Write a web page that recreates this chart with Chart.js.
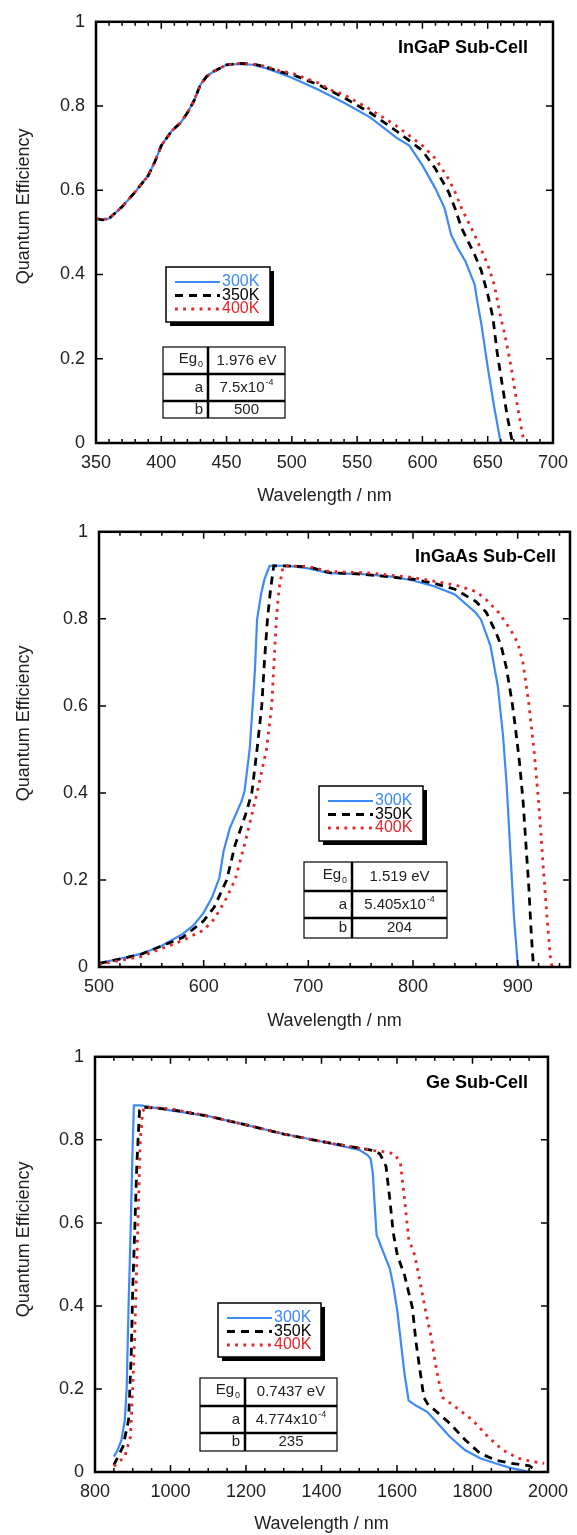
<!DOCTYPE html>
<html>
<head>
<meta charset="utf-8">
<title>Sub-cell quantum efficiency</title>
<script src="https://cdn.jsdelivr.net/npm/chart.js@4.4.1/dist/chart.umd.min.js"></script>
<style>
  body { margin: 0; background: #fff; }
  .panel { position: absolute; left: 0; width: 577px; }
</style>
</head>
<body>
<div class="panel" style="top:0;height:510px"><canvas id="ingap"></canvas></div>
<div class="panel" style="top:510px;height:525px"><canvas id="ingaas"></canvas></div>
<div class="panel" style="top:1035px;height:500px"><canvas id="ge"></canvas></div>
<script>
// legend names and table row names
var seriesLabels = ['300K', '350K', '400K'];
var paramNames = ['Eg_0', 'a', 'b'];

// InGaP sub-cell
var ingapWl300 = [350, 355, 360, 370, 380, 390, 395, 400, 408, 415, 420, 425, 430, 435, 440, 450, 460, 470, 480, 490, 500, 520, 540, 560, 580, 590, 600, 610, 617, 622, 627, 633, 640, 642, 645, 650, 655, 660];
var ingapQe300 = [0.533, 0.530, 0.533, 0.561, 0.596, 0.635, 0.667, 0.706, 0.741, 0.761, 0.784, 0.812, 0.851, 0.871, 0.882, 0.898, 0.900, 0.898, 0.890, 0.879, 0.867, 0.839, 0.808, 0.773, 0.725, 0.706, 0.659, 0.604, 0.557, 0.494, 0.463, 0.431, 0.376, 0.337, 0.285, 0.180, 0.085, 0];
var ingapWl350 = [350, 355, 360, 370, 380, 390, 395, 400, 408, 415, 420, 425, 430, 435, 440, 450, 460, 470, 480, 490, 500, 520, 540, 560, 580, 600, 610, 620, 625, 630, 640, 645, 650, 654, 657, 661, 665, 669];
var ingapQe350 = [0.533, 0.530, 0.533, 0.561, 0.596, 0.635, 0.667, 0.706, 0.741, 0.761, 0.784, 0.812, 0.851, 0.871, 0.882, 0.898, 0.901, 0.900, 0.893, 0.882, 0.875, 0.851, 0.820, 0.784, 0.741, 0.694, 0.651, 0.596, 0.557, 0.510, 0.447, 0.410, 0.353, 0.298, 0.220, 0.141, 0.063, 0];
var ingapWl400 = [350, 355, 360, 370, 380, 390, 395, 400, 408, 415, 420, 425, 430, 435, 440, 450, 460, 470, 480, 490, 500, 520, 530, 540, 560, 580, 600, 610, 620, 625, 630, 640, 650, 655, 660, 663, 668, 672, 676, 678];
var ingapQe400 = [0.533, 0.530, 0.533, 0.561, 0.596, 0.635, 0.667, 0.706, 0.741, 0.761, 0.784, 0.812, 0.851, 0.871, 0.882, 0.898, 0.901, 0.900, 0.894, 0.884, 0.878, 0.855, 0.838, 0.827, 0.792, 0.753, 0.706, 0.675, 0.627, 0.596, 0.557, 0.494, 0.424, 0.376, 0.298, 0.259, 0.180, 0.102, 0.031, 0];
var ingapParams = ['1.976 eV', '7.5x10^-4', '500'];

// InGaAs sub-cell
var ingaasWl300 = [500, 520, 540, 560, 580, 590, 600, 608, 615, 619, 625, 636, 639, 644, 647, 649, 651, 655, 658, 663, 680, 700, 720, 750, 780, 800, 820, 840, 860, 865, 870, 874, 881, 886, 889.5, 893, 896.5, 900, 901];
var ingaasQe300 = [0.009, 0.019, 0.030, 0.049, 0.076, 0.095, 0.125, 0.160, 0.205, 0.266, 0.319, 0.380, 0.403, 0.502, 0.608, 0.684, 0.798, 0.859, 0.890, 0.922, 0.922, 0.916, 0.905, 0.903, 0.897, 0.888, 0.875, 0.856, 0.814, 0.798, 0.765, 0.738, 0.646, 0.532, 0.418, 0.266, 0.114, 0.008, 0];
var ingaasWl350 = [500, 540, 580, 600, 610, 622, 630, 640, 646, 651, 655.5, 658, 661, 664, 667, 700, 720, 750, 800, 820, 840, 860, 870, 879, 884, 889, 894.7, 898, 901.7, 905.2, 907.7, 910.5, 913, 914.7, 915.5];
var ingaasQe350 = [0.008, 0.029, 0.068, 0.106, 0.137, 0.200, 0.280, 0.350, 0.400, 0.500, 0.600, 0.700, 0.800, 0.870, 0.922, 0.920, 0.906, 0.903, 0.891, 0.882, 0.868, 0.840, 0.815, 0.770, 0.740, 0.690, 0.608, 0.547, 0.471, 0.380, 0.289, 0.190, 0.076, 0.015, 0];
var ingaasWl400 = [500, 540, 580, 600, 610, 620, 630, 640, 651, 660, 665, 669.5, 672, 676, 700, 720, 760, 800, 840, 860, 870, 882, 893, 900, 905, 910.5, 915.8, 920, 924.5, 928, 931.5, 933];
var ingaasQe400 = [0.006, 0.024, 0.061, 0.085, 0.110, 0.150, 0.200, 0.290, 0.400, 0.500, 0.600, 0.800, 0.870, 0.922, 0.920, 0.909, 0.905, 0.895, 0.878, 0.863, 0.844, 0.814, 0.776, 0.745, 0.700, 0.608, 0.494, 0.380, 0.228, 0.114, 0.015, 0];
var ingaasParams = ['1.519 eV', '5.405x10^-4', '204'];

// Ge sub-cell
var geWl300 = [850, 860, 870, 879, 884, 889, 894, 899, 903, 920, 1000, 1100, 1200, 1300, 1400, 1500, 1521, 1530, 1536, 1541, 1546, 1550, 1560, 1581, 1590, 1601, 1611, 1620, 1631, 1650, 1680, 1700, 1740, 1780, 1820, 1860, 1900, 1940, 1960];
var geQe300 = [0.037, 0.053, 0.077, 0.125, 0.204, 0.403, 0.569, 0.760, 0.883, 0.883, 0.871, 0.857, 0.836, 0.814, 0.796, 0.776, 0.764, 0.755, 0.720, 0.641, 0.570, 0.562, 0.538, 0.490, 0.450, 0.387, 0.307, 0.236, 0.172, 0.160, 0.145, 0.125, 0.085, 0.053, 0.033, 0.021, 0.010, 0.002, 0];
var geWl350 = [850, 874, 889, 896, 900, 906, 911, 918, 925, 1000, 1100, 1200, 1300, 1400, 1500, 1540, 1555, 1571, 1581, 1590, 1601, 1620, 1641, 1650, 1661, 1671, 1681, 1700, 1740, 1781, 1820, 1860, 1900, 1951, 1963];
var geQe350 = [0.017, 0.061, 0.125, 0.284, 0.442, 0.601, 0.744, 0.871, 0.879, 0.873, 0.857, 0.836, 0.814, 0.796, 0.780, 0.774, 0.766, 0.736, 0.657, 0.577, 0.522, 0.474, 0.395, 0.315, 0.244, 0.180, 0.164, 0.149, 0.117, 0.077, 0.045, 0.029, 0.021, 0.015, 0.006];
var geWl400 = [850, 879, 894, 900, 905, 910, 915, 920, 926, 932, 1000, 1100, 1200, 1300, 1400, 1500, 1540, 1560, 1594, 1609, 1620, 1631, 1647, 1661, 1676, 1691, 1705, 1720, 1760, 1800, 1841, 1880, 1921, 1960, 1990];
var geQe400 = [0.014, 0.037, 0.085, 0.204, 0.323, 0.482, 0.641, 0.800, 0.867, 0.879, 0.875, 0.857, 0.836, 0.814, 0.796, 0.780, 0.774, 0.772, 0.766, 0.744, 0.657, 0.562, 0.522, 0.458, 0.387, 0.323, 0.244, 0.180, 0.153, 0.125, 0.085, 0.053, 0.033, 0.025, 0.021];
var geParams = ['0.7437 eV', '4.774x10^-4', '235'];

var FONT = "'Liberation Sans', Arial, sans-serif";
var INK = '#222';
var BLUE = '#3d8af7';
var RED = '#e3262a';

function series(wl, qe) {
  return wl.map(function (w, i) { return { x: w, y: qe[i] }; });
}

// text with an optional sub- (_) or superscript (^) tail
function drawRich(ctx, str, x, y, align, size) {
  var m = str.match(/^([^_^]*)([_^]?)(.*)$/);
  var base = m[1], mark = m[2], script = m[3];
  var small = Math.round(size * 0.62);
  ctx.font = size + 'px ' + FONT;
  var wb = ctx.measureText(base).width;
  ctx.font = small + 'px ' + FONT;
  var ws = mark ? ctx.measureText(script).width + 1 : 0;
  var w = wb + ws;
  var x0 = align === 'right' ? x - w : (align === 'center' ? x - w / 2 : x);
  ctx.textAlign = 'left';
  ctx.textBaseline = 'middle';
  ctx.font = size + 'px ' + FONT;
  ctx.fillText(base, x0, mark === '_' ? y - 2 : y);
  if (mark) {
    ctx.font = small + 'px ' + FONT;
    ctx.fillText(script, x0 + wb + 1, mark === '_' ? y + 4 : y - 5);
  }
}

// frame, inward ticks, y title, panel label, boxed legend and parameter table
var decor = {
  id: 'decor',
  afterDraw: function (chart, args, o) {
    var ctx = chart.ctx, a = chart.chartArea;
    var xs = chart.scales.x, ys = chart.scales.y;
    ctx.save();

    ctx.strokeStyle = '#000';
    ctx.lineWidth = 1.5;
    ctx.beginPath();
    var majors = xs.ticks.map(function (t) { return t.value; });
    for (var v = xs.min; v <= xs.max + 0.001; v += o.xMinor) {
      var px = xs.getPixelForValue(v);
      var len = majors.indexOf(v) >= 0 ? 7 : 4;
      ctx.moveTo(px, a.bottom); ctx.lineTo(px, a.bottom - len);
      ctx.moveTo(px, a.top); ctx.lineTo(px, a.top + len);
    }
    ys.ticks.forEach(function (t) {
      var py = ys.getPixelForValue(t.value);
      ctx.moveTo(a.left, py); ctx.lineTo(a.left + 7, py);
      ctx.moveTo(a.right, py); ctx.lineTo(a.right - 7, py);
    });
    ctx.stroke();
    ctx.lineWidth = 2.5;
    ctx.strokeRect(a.left, a.top, a.right - a.left, a.bottom - a.top);

    // y title
    ctx.fillStyle = INK;
    ctx.font = '18px ' + FONT;
    ctx.textAlign = 'center';
    ctx.textBaseline = 'middle';
    ctx.translate(o.yTitleX, (a.top + a.bottom) / 2 + o.yTitleShift);
    ctx.rotate(-Math.PI / 2);
    ctx.fillText('Quantum Efficiency', 0, 0);
    ctx.setTransform(1, 0, 0, 1, 0, 0);

    // panel label
    ctx.fillStyle = '#000';
    ctx.font = 'bold 18px ' + FONT;
    ctx.textAlign = 'right';
    ctx.fillText(o.label, a.right - o.labelDx, a.top + o.labelDy);

    // legend box with drop shadow
    var L = o.legend;
    ctx.fillStyle = '#000';
    ctx.fillRect(L.x + 4, L.y + 4, L.w, L.h);
    ctx.fillStyle = '#fff';
    ctx.fillRect(L.x, L.y, L.w, L.h);
    ctx.lineWidth = 1.5;
    ctx.strokeRect(L.x, L.y, L.w, L.h);
    [0, 1, 2].forEach(function (i) {
      var ds = chart.data.datasets[i];
      var yy = L.y + 15 + i * 13.5;
      ctx.save();
      ctx.strokeStyle = ds.borderColor;
      ctx.lineWidth = ds.borderWidth;
      ctx.setLineDash(ds.borderDash || []);
      ctx.beginPath();
      ctx.moveTo(L.x + 9, yy);
      ctx.lineTo(L.x + 54, yy);
      ctx.stroke();
      ctx.restore();
      ctx.fillStyle = ds.borderColor;
      ctx.font = '16px ' + FONT;
      ctx.textAlign = 'left';
      ctx.textBaseline = 'middle';
      ctx.fillText(ds.label, L.x + 56, yy);
    });

    // parameter table
    var T = o.table;
    var w = T.cols[0] + T.cols[1];
    var h = T.rows[0] + T.rows[1] + T.rows[2];
    ctx.strokeStyle = '#000';
    ctx.lineWidth = 1.2;
    ctx.strokeRect(T.x, T.y, w, h);
    ctx.lineWidth = 2.5;
    ctx.beginPath();
    ctx.moveTo(T.x + T.cols[0], T.y); ctx.lineTo(T.x + T.cols[0], T.y + h);
    ctx.moveTo(T.x, T.y + T.rows[0]); ctx.lineTo(T.x + w, T.y + T.rows[0]);
    ctx.moveTo(T.x, T.y + T.rows[0] + T.rows[1]); ctx.lineTo(T.x + w, T.y + T.rows[0] + T.rows[1]);
    ctx.stroke();
    ctx.fillStyle = INK;
    var top = T.y;
    for (var r = 0; r < 3; r++) {
      var cy = top + T.rows[r] / 2;
      drawRich(ctx, paramNames[r], T.x + T.cols[0] - 5, cy, 'right', 15);
      drawRich(ctx, o.params[r], T.x + T.cols[0] + T.cols[1] / 2, cy, 'center', 15);
      top += T.rows[r];
    }
    ctx.restore();
  }
};

function makePanel(id, p) {
  return new Chart(document.getElementById(id), {
    type: 'line',
    data: {
      datasets: [
        { label: seriesLabels[0], data: series(p.wl[0], p.qe[0]), borderColor: BLUE, borderWidth: 2.2, order: 2 },
        { label: seriesLabels[1], data: series(p.wl[1], p.qe[1]), borderColor: '#000', borderWidth: 2.8, borderDash: [8, 6], order: 1 },
        { label: seriesLabels[2], data: series(p.wl[2], p.qe[2]), borderColor: RED, borderWidth: 2.8, borderDash: [2.8, 5.4], order: 0 }
      ]
    },
    options: {
      responsive: true,
      maintainAspectRatio: false,
      animation: false,
      elements: { point: { radius: 0 }, line: { tension: 0, fill: false } },
      layout: { padding: { top: 18, right: p.right, left: 0, bottom: 0 } },
      scales: {
        x: {
          type: 'linear',
          min: p.xMin,
          max: p.xMax,
          grid: { display: false, drawTicks: false },
          border: { display: false },
          ticks: {
            stepSize: p.xStep, includeBounds: false, padding: 9, maxRotation: 0,
            color: INK, font: { family: FONT, size: 18 },
            callback: function (v) { return String(v); }
          },
          title: { display: true, text: 'Wavelength / nm', color: INK, font: { family: FONT, size: 18 }, padding: { top: 4, bottom: p.titleBottom } },
          afterFit: function (s) { s.height = p.axisH; }
        },
        y: {
          min: 0,
          max: 1,
          grid: { display: false, drawTicks: false },
          border: { display: false },
          ticks: {
            stepSize: 0.2, padding: 11, color: INK, font: { family: FONT, size: 18 },
            callback: function (v) { return String(Number(v.toFixed(1))); }
          },
          afterFit: function (s) { s.width = p.left; }
        }
      },
      plugins: {
        legend: { display: false },
        tooltip: { enabled: false },
        decor: p.decor
      }
    },
    plugins: [decor]
  });
}

makePanel('ingap', {
  wl: [ingapWl300, ingapWl350, ingapWl400],
  qe: [ingapQe300, ingapQe350, ingapQe400],
  xMin: 350, xMax: 700, xStep: 50,
  left: 96, right: 21, axisH: 67, titleBottom: 3,
  decor: {
    xMinor: 10, label: 'InGaP Sub-Cell', labelDx: 25, labelDy: 26,
    yTitleX: 24, yTitleShift: -26,
    legend: { x: 166, y: 267, w: 104, h: 55 },
    table: { x: 163, y: 347, cols: [45, 77], rows: [27, 27, 17] },
    params: ingapParams
  }
});

makePanel('ingaas', {
  wl: [ingaasWl300, ingaasWl350, ingaasWl400],
  qe: [ingaasQe300, ingaasQe350, ingaasQe400],
  xMin: 500, xMax: 950, xStep: 100,
  left: 99, right: 7, axisH: 68, titleBottom: 3,
  decor: {
    xMinor: 20, label: 'InGaAs Sub-Cell', labelDx: 14, labelDy: 25,
    yTitleX: 24, yTitleShift: -26,
    legend: { x: 319, y: 276, w: 104, h: 55 },
    table: { x: 304, y: 352, cols: [48, 95], rows: [29, 27, 20] },
    params: ingaasParams
  }
});

makePanel('ge', {
  wl: [geWl300, geWl350, geWl400],
  qe: [geQe300, geQe350, geQe400],
  xMin: 800, xMax: 2000, xStep: 200,
  left: 95, right: 23, axisH: 63, titleBottom: 0,
  decor: {
    xMinor: 50, label: 'Ge Sub-Cell', labelDx: 20, labelDy: 26,
    yTitleX: 24, yTitleShift: -25,
    legend: { x: 218, y: 268, w: 103, h: 54 },
    table: { x: 200, y: 343, cols: [45, 92], rows: [28, 27, 18] },
    params: geParams
  }
});
</script>
</body>
</html>
